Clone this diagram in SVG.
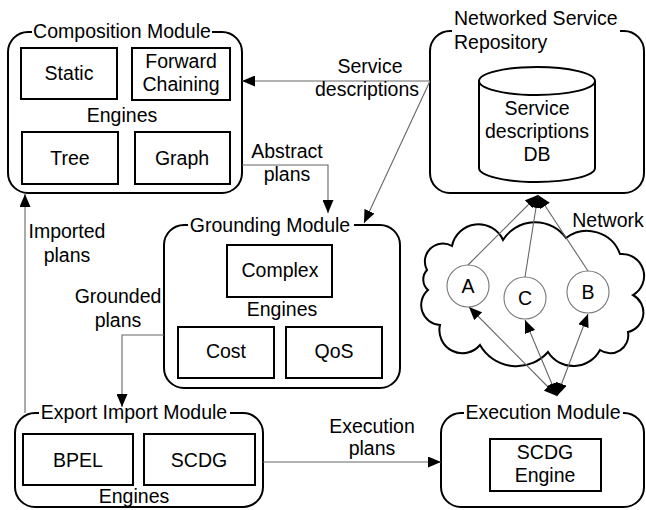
<svg xmlns="http://www.w3.org/2000/svg" width="646" height="510" viewBox="0 0 646 510">
<defs>
<style>
text{font-family:"Liberation Sans",Arial,sans-serif;font-size:19.5px;fill:#000;text-anchor:middle}
.mod{fill:none;stroke:#000;stroke-width:2}
.box{fill:#fff;stroke:#000;stroke-width:2}
.gap{fill:#fff;stroke:none}
.con{fill:none;stroke:#666;stroke-width:1.1}
.node{fill:#fff;stroke:#777;stroke-width:1.1}
.cloud{fill:#fff;stroke:#000;stroke-width:2}
</style>
<marker id="ah" viewBox="0 0 13 11" refX="13" refY="5.5" markerWidth="13" markerHeight="11" markerUnits="userSpaceOnUse" orient="auto-start-reverse">
<path d="M0,0 L13,5.5 L0,11 z" fill="#000"/>
</marker>
</defs>

<g id="composition">
<rect class="mod" x="8" y="32" width="234" height="161" rx="20"/>
<rect class="gap" x="32" y="24" width="180" height="14"/>
<text x="122" y="38">Composition Module</text>
<rect class="box" x="21" y="48" width="96" height="51"/>
<text x="69" y="80">Static</text>
<rect class="box" x="132" y="48" width="98" height="52"/>
<text x="181" y="68">Forward</text>
<text x="181" y="91">Chaining</text>
<text x="122" y="122">Engines</text>
<rect class="box" x="22" y="132" width="96" height="52"/>
<text x="70" y="165">Tree</text>
<rect class="box" x="135" y="132" width="95" height="52"/>
<text x="182" y="165">Graph</text>
</g>

<g id="repository">
<rect class="mod" x="430" y="31" width="214" height="162" rx="20"/>
<rect class="gap" x="452" y="24" width="168" height="14"/>
<text x="454" y="25" style="text-anchor:start">Networked Service</text>
<text x="454" y="49" style="text-anchor:start">Repository</text>
<path class="box" d="M479,81 A58,14 0 0 1 595,81 L595,168 A58,14 0 0 1 479,168 Z"/>
<path class="mod" d="M479,81 A58,14 0 0 0 595,81"/>
<text x="537" y="115">Service</text>
<text x="537" y="138">descriptions</text>
<text x="537" y="161">DB</text>
</g>

<g id="grounding">
<rect class="mod" x="164" y="225" width="236" height="163" rx="20"/>
<rect class="gap" x="188" y="217" width="166" height="14"/>
<text x="270" y="232">Grounding Module</text>
<rect class="box" x="227" y="245" width="105" height="52"/>
<text x="280" y="277">Complex</text>
<text x="282" y="316">Engines</text>
<rect class="box" x="178" y="327" width="96" height="51"/>
<text x="226" y="358">Cost</text>
<rect class="box" x="286" y="327" width="96" height="51"/>
<text x="334" y="358">QoS</text>
</g>

<g id="exportimport">
<rect class="mod" x="15" y="413" width="248" height="94" rx="20"/>
<rect class="gap" x="39" y="405" width="191" height="14"/>
<text x="134" y="419">Export Import Module</text>
<rect class="box" x="23" y="434" width="110" height="51"/>
<text x="78" y="467">BPEL</text>
<rect class="box" x="144" y="434" width="111" height="51"/>
<text x="199" y="467">SCDG</text>
<text x="134" y="503">Engines</text>
</g>

<g id="execution">
<rect class="mod" x="441" y="413" width="203" height="94" rx="20"/>
<rect class="gap" x="464" y="405" width="159" height="14"/>
<text x="543" y="419">Execution Module</text>
<rect class="box" x="490" y="439" width="111" height="52"/>
<text x="545" y="459">SCDG</text>
<text x="545" y="482">Engine</text>
</g>

<g id="network">
<path class="cloud" d="M427,270 A18,18 0 0 1 452,246 A27,27 0 0 1 503,240 A38,38 0 0 1 566,238 A35,35 0 0 1 620,254 A22,22 0 0 1 633,295 A20,20 0 0 1 628,332 A18,18 0 0 1 600,350 A30,30 0 0 1 548,352 A42,42 0 0 1 480,345 A23,23 0 0 1 440,325 A20,20 0 0 1 428,290 A14,14 0 0 1 427,270 Z"/>
<text x="608" y="227">Network</text>
</g>

<g id="connectors">
<path class="con" d="M430,81 L242,81" marker-end="url(#ah)"/>
<path class="con" d="M430,81 L364,223" marker-end="url(#ah)"/>
<path class="con" d="M242,165 L328,165 L328,213" marker-end="url(#ah)"/>
<path class="con" d="M25,413 L25,194" marker-end="url(#ah)"/>
<path class="con" d="M164,335 L122,335 L122,407" marker-end="url(#ah)"/>
<path class="con" d="M263,462 L441,462" marker-end="url(#ah)"/>
<path class="con" d="M468,265 L538,195" marker-end="url(#ah)"/>
<path class="con" d="M525,277 L538,195" marker-end="url(#ah)"/>
<path class="con" d="M588,271 L538,195" marker-end="url(#ah)"/>
<path class="con" d="M557,396 L469,307" marker-start="url(#ah)" marker-end="url(#ah)"/>
<path class="con" d="M557,396 L525,320" marker-start="url(#ah)" marker-end="url(#ah)"/>
<path class="con" d="M557,396 L588,314" marker-start="url(#ah)" marker-end="url(#ah)"/>
</g>

<g id="labels">
<text x="370" y="73">Service</text>
<text x="367" y="96">descriptions</text>
<text x="287" y="158">Abstract</text>
<text x="287" y="181">plans</text>
<text x="67" y="238">Imported</text>
<text x="67" y="262">plans</text>
<text x="118" y="303">Grounded</text>
<text x="118" y="327">plans</text>
<text x="372" y="433">Execution</text>
<text x="372" y="455">plans</text>
</g>

<g id="nodeA"><circle class="node" cx="468" cy="286" r="21"/><text x="468" y="293">A</text></g>
<g id="nodeC"><circle class="node" cx="525" cy="298" r="21"/><text x="525" y="305">C</text></g>
<g id="nodeB"><circle class="node" cx="588" cy="292" r="21"/><text x="588" y="299">B</text></g>
</svg>
